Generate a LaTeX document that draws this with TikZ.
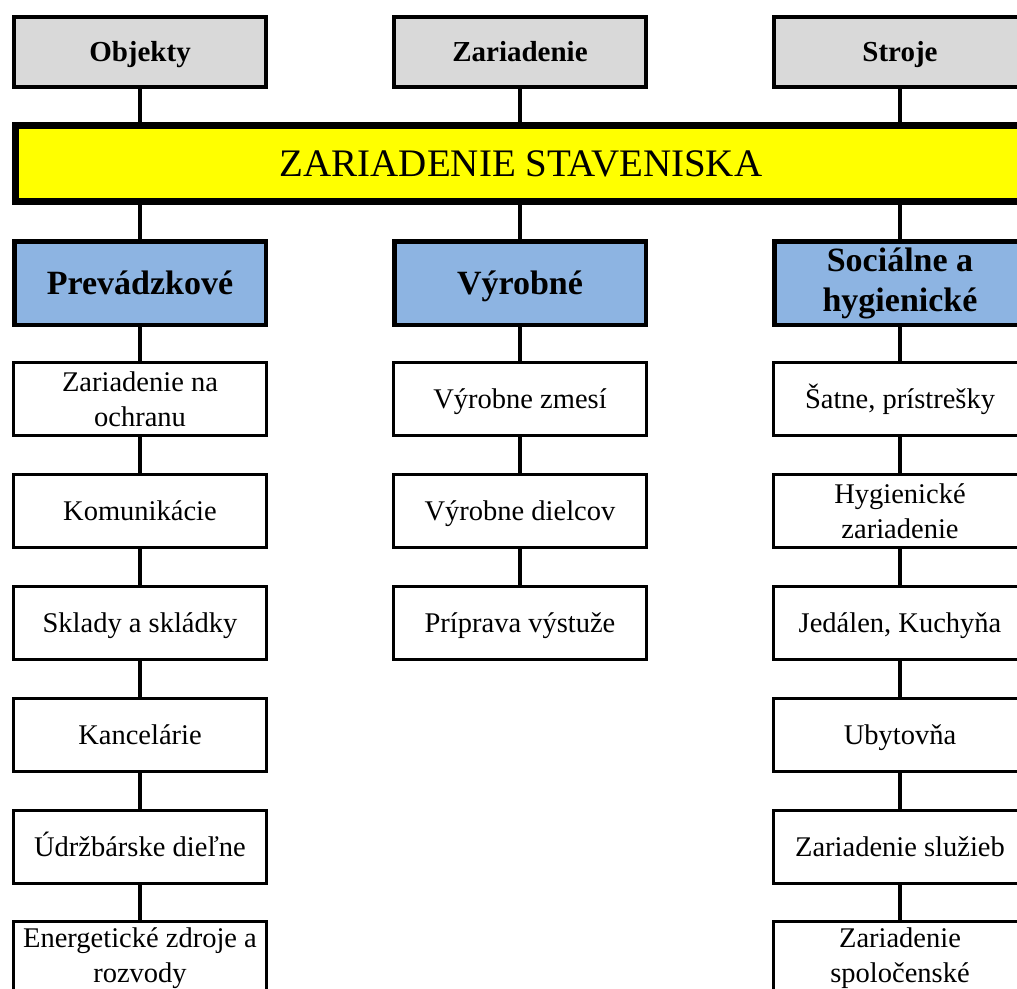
\documentclass[tikz,border=0pt]{standalone}
\usepackage{fontspec}
\setmainfont{Liberation Serif}
\definecolor{catgrey}{HTML}{D9D9D9}
\definecolor{groupblue}{HTML}{8DB4E2}
\definecolor{baryellow}{HTML}{FFFF00}
\begin{document}
\begin{tikzpicture}[x=1pt,y=-1pt,
  conn/.style={line width=3.5pt},
  oneline/.style={text height=#1, text depth=0pt},
  catbox/.style={draw, line width=4pt, fill=catgrey, inner sep=0pt,
    minimum width=252pt, minimum height=70pt, oneline=19pt,
    font=\fontsize{29}{34}\selectfont\bfseries},
  titlebar/.style={draw, line width=7pt, fill=baryellow, inner sep=0pt,
    minimum width=1011pt, minimum height=76pt, oneline=25.7pt,
    font=\fontsize{39}{45}\selectfont},
  groupbox/.style={draw, line width=4.5pt, fill=groupblue, inner sep=0pt,
    minimum width=251.5pt, minimum height=83.5pt, align=center,
    font=\fontsize{34}{40}\selectfont\bfseries},
  itembox/.style={draw, line width=3pt, fill=white, inner sep=0pt,
    minimum width=253pt, minimum height=73pt, align=center,
    font=\fontsize{28.5}{34.5}\selectfont}]
\useasboundingbox (0,0) rectangle (1017,988);
\clip (0,0) rectangle (1017,988);

% categories
\node[catbox] (g1) at (140,52) {Objekty};
\node[catbox] (g2) at (520,52) {Zariadenie};
\node[catbox] (g3) at (900,52) {Stroje};

% main title bar
\node[titlebar] (bar) at (521,163.5) {ZARIADENIE STAVENISKA};

% groups
\node[groupbox, oneline=22.4pt] (b1) at (140,283) {Prevádzkové};
\node[groupbox, oneline=22.4pt] (b2) at (520,283) {Výrobné};
\node[groupbox] (b3) at (900,283) {Sociálne a\\hygienické};

% left column
\node[itembox] (l1) at (140,399) {Zariadenie na\\ochranu};
\node[itembox, oneline=18.8pt] (l2) at (140,511) {Komunikácie};
\node[itembox, oneline=18.8pt] (l3) at (140,623) {Sklady a skládky};
\node[itembox, oneline=18.8pt] (l4) at (140,735) {Kancelárie};
\node[itembox, oneline=18.8pt] (l5) at (140,847) {Údržbárske dieľne};
\node[itembox] (l6) at (140,958) {Energetické zdroje a\\rozvody};

% middle column
\node[itembox, oneline=18.8pt] (m1) at (520,399) {Výrobne zmesí};
\node[itembox, oneline=18.8pt] (m2) at (520,511) {Výrobne dielcov};
\node[itembox, oneline=18.8pt] (m3) at (520,623) {Príprava výstuže};

% right column
\node[itembox, oneline=18.8pt] (r1) at (900,399) {Šatne, prístrešky};
\node[itembox] (r2) at (900,511) {Hygienické\\zariadenie};
\node[itembox, oneline=18.8pt] (r3) at (900,623) {Jedálen, Kuchyňa};
\node[itembox, oneline=18.8pt] (r4) at (900,735) {Ubytovňa};
\node[itembox, oneline=18.8pt] (r5) at (900,847) {Zariadenie služieb};
\node[itembox] (r6) at (900,958) {Zariadenie\\spoločenské};

% connectors
\foreach \c/\g in {g1/b1, g2/b2, g3/b3} {
  \draw[conn] (\c.south) -- (\c.south |- bar.north);
  \draw[conn] (\g.north |- bar.south) -- (\g.north);
}
\draw[conn] (b1.south) -- (l1.north);
\draw[conn] (l1.south) -- (l2.north);
\draw[conn] (l2.south) -- (l3.north);
\draw[conn] (l3.south) -- (l4.north);
\draw[conn] (l4.south) -- (l5.north);
\draw[conn] (l5.south) -- (l6.north);
\draw[conn] (b2.south) -- (m1.north);
\draw[conn] (m1.south) -- (m2.north);
\draw[conn] (m2.south) -- (m3.north);
\draw[conn] (b3.south) -- (r1.north);
\draw[conn] (r1.south) -- (r2.north);
\draw[conn] (r2.south) -- (r3.north);
\draw[conn] (r3.south) -- (r4.north);
\draw[conn] (r4.south) -- (r5.north);
\draw[conn] (r5.south) -- (r6.north);
\end{tikzpicture}
\end{document}
